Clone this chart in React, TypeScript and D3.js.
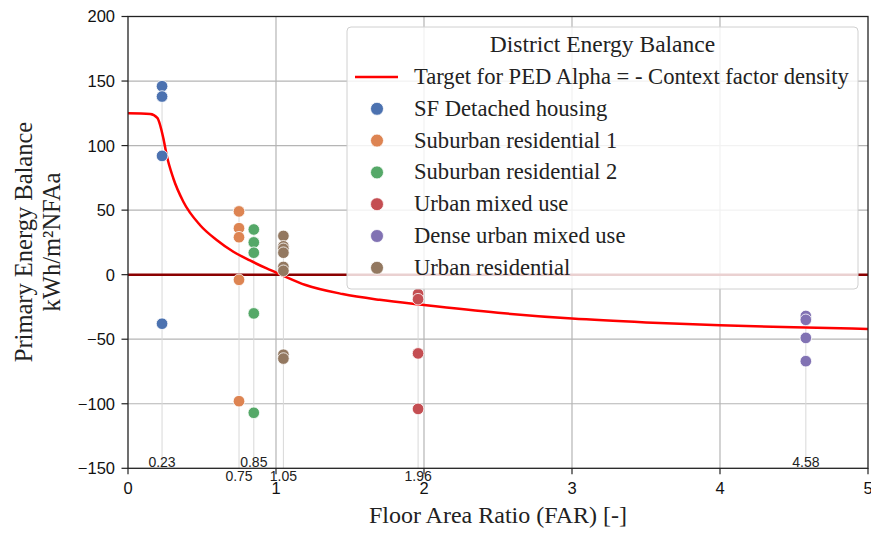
import * as React from 'react';
import * as d3 from 'd3';

// district types and their floor area ratio
const categories = [
  'SF Detached housing',
  'Suburban residential 1',
  'Suburban residential 2',
  'Urban mixed use',
  'Dense urban mixed use',
  'Urban residential',
];
const farValues = [0.23, 0.75, 0.85, 1.96, 4.58, 1.05];

// primary energy balance per district (kWh/m²NFAa)
const sfDetached = [146, 138, 92, -38];
const suburban1 = [49, 36, 29, -4, -98];
const suburban2 = [35, 25, 17, -30, -107];
const urbanMixed = [-15, -19, -61, -104];
const denseUrban = [-32, -35, -49, -67];
const urbanResidential = [30, 22, 20, 17, 6, 3, -62, -65];
const balances = [sfDetached, suburban1, suburban2, urbanMixed, denseUrban, urbanResidential];

// target curve
const targetFar = [0, 0.15, 0.198, 0.239, 0.261, 0.306, 0.374, 0.486, 0.599, 0.712, 0.824, 0.937, 1.027, 1.2, 1.45, 1.7, 2.0, 2.5, 3.0, 3.5, 4.0, 4.5, 5.0];
const targetBalance = [125, 124.5, 121.5, 105.6, 92.7, 74.7, 56.5, 38.5, 26.9, 17.8, 11, 4.8, 0.3, -8, -15, -19.5, -23.5, -29.5, -34, -37, -39.2, -40.8, -42];

const xTicks = [0, 1, 2, 3, 4, 5];
const yTicks = [-150, -100, -50, 0, 50, 100, 150, 200];

const palette = ['#4c72b0', '#dd8452', '#55a868', '#c44e52', '#8172b3', '#937860'];

const W = 871;
const H = 534;
const margin = { top: 16.5, right: 3, bottom: 65.7, left: 128 };

const serif = "'Liberation Serif', 'DejaVu Serif', serif";
const sans = "'Liberation Sans', Arial, sans-serif";

export default function App() {
  const x = d3.scaleLinear().domain([0, 5]).range([margin.left, W - margin.right]);
  const y = d3.scaleLinear().domain([-150, 200]).range([H - margin.bottom, margin.top]);

  const line = d3
    .line<number>()
    .x((_d, i) => x(targetFar[i]))
    .y((d) => y(d))
    .curve(d3.curveMonotoneX);

  const legendX = 347;
  const legendY = 27;
  const rowH = 31.8;

  return (
    <div>
      <style>{'body{margin:0}'}</style>
      <svg width={W} height={H} style={{ display: 'block', background: '#fff' }}>
        {/* grid */}
        {xTicks.slice(1, -1).map((t) => (
          <line key={'gx' + t} x1={x(t)} x2={x(t)} y1={y(-150)} y2={y(200)} stroke="#b5b5b5" strokeWidth={1.2} />
        ))}
        {yTicks.slice(1, -1).map((t) => (
          <line key={'gy' + t} x1={x(0)} x2={x(5)} y1={y(t)} y2={y(t)} stroke="#b5b5b5" strokeWidth={1.2} />
        ))}

        {/* drop lines at each FAR */}
        {farValues.map((f, i) => (
          <line
            key={'v' + i}
            x1={x(f)}
            x2={x(f)}
            y1={y(-150)}
            y2={y(d3.max(balances[i]) ?? 0)}
            stroke="#d8d8d8"
            strokeWidth={1}
          />
        ))}

        <line x1={x(0)} x2={x(5)} y1={y(0)} y2={y(0)} stroke="#8b0000" strokeWidth={2.5} />
        <path d={line(targetBalance) ?? ''} fill="none" stroke="#ff0000" strokeWidth={2.5} />

        {/* points */}
        {balances.map((vals, i) =>
          vals.map((v, j) => (
            <circle key={i + '-' + j} cx={x(farValues[i])} cy={y(v)} r={5.8} fill={palette[i]} stroke="#fff" strokeWidth={0.8} />
          ))
        )}

        {/* FAR annotations */}
        {farValues.map((f, i) => (
          <text
            key={'a' + i}
            x={x(f)}
            y={i % 2 === 0 ? y(-150) - 1.5 : y(-150) + 13}
            textAnchor="middle"
            fontFamily={sans}
            fontSize={14}
            fill="#222"
          >
            {f.toFixed(2)}
          </text>
        ))}

        {/* spines */}
        <rect x={x(0)} y={y(200)} width={x(5) - x(0)} height={y(-150) - y(200)} fill="none" stroke="#222" strokeWidth={1.3} />

        {/* y axis */}
        {yTicks.map((t) => (
          <g key={'yt' + t}>
            <line x1={x(0) - 6.5} x2={x(0)} y1={y(t)} y2={y(t)} stroke="#222" strokeWidth={1.2} />
            <text x={x(0) - 13} y={y(t)} dy="0.36em" textAnchor="end" fontFamily={sans} fontSize={16.5} fill="#111">
              {t < 0 ? '\u2212' + Math.abs(t) : t}
            </text>
          </g>
        ))}
        {/* x axis */}
        {xTicks.map((t) => (
          <g key={'xt' + t}>
            <line x1={x(t)} x2={x(t)} y1={y(-150)} y2={y(-150) + 6} stroke="#222" strokeWidth={1.2} />
            <text x={x(t)} y={y(-150) + 26} textAnchor="middle" fontFamily={sans} fontSize={16.5} fill="#111">
              {t}
            </text>
          </g>
        ))}

        <text x={(x(0) + x(5)) / 2} y={523} textAnchor="middle" fontFamily={serif} fontSize={24} fill="#222">
          Floor Area Ratio (FAR) [-]
        </text>
        <g transform="translate(0,242) rotate(-90)">
          <text x={0} y={32} textAnchor="middle" fontFamily={serif} fontSize={24.5} fill="#222">
            Primary Energy Balance
          </text>
          <text x={0} y={60} textAnchor="middle" fontFamily={serif} fontSize={24.5} fill="#222">
            kWh/m²NFAa
          </text>
        </g>

        {/* legend */}
        <g>
          <rect x={legendX} y={legendY} width={511} height={262} rx={4} fill="#fff" fillOpacity={0.82} stroke="#d0d0d0" strokeWidth={1} />
          <text x={legendX + 255.5} y={legendY + 25} textAnchor="middle" fontFamily={serif} fontSize={23.5} fill="#222">
            District Energy Balance
          </text>
          <line x1={legendX + 8} x2={legendX + 51} y1={legendY + 50} y2={legendY + 50} stroke="#ff0000" strokeWidth={2.5} />
          <text x={legendX + 67} y={legendY + 57} fontFamily={serif} fontSize={22.6} fill="#222">
            Target for PED Alpha = - Context factor density
          </text>
          {categories.map((c, i) => (
            <g key={c}>
              <circle cx={legendX + 30} cy={legendY + 50 + (i + 1) * rowH} r={6.5} fill={palette[i]} stroke="#fff" strokeWidth={0.8} />
              <text x={legendX + 67} y={legendY + 57 + (i + 1) * rowH} fontFamily={serif} fontSize={22.6} fill="#222">
                {c}
              </text>
            </g>
          ))}
        </g>
      </svg>
    </div>
  );
}
